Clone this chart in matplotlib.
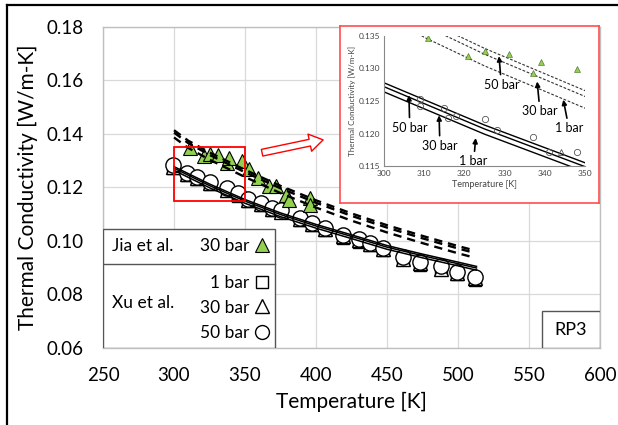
import matplotlib
matplotlib.use("Agg")
import matplotlib.pyplot as plt
from matplotlib.patches import Rectangle
from matplotlib.lines import Line2D

plt.rcParams['font.family'] = ['Lato', 'DejaVu Sans']

# Jia et al. measurements, 30 bar
jia_T = [311, 321, 325, 331, 337, 339, 348, 353, 359, 367, 372, 379, 381, 396, 396]
jia_k = [0.1347, 0.1319, 0.1327, 0.1322, 0.1293, 0.1310, 0.1299, 0.1269,
         0.1236, 0.1206, 0.1206, 0.1172, 0.1155, 0.1161, 0.1135]

# Xu et al. measurements
xu_T = [299, 309, 316, 325, 337, 345, 352, 361, 369, 375, 389, 397,
        406, 419, 430, 438, 447, 461, 473, 488, 499, 512]
xu_k_1bar = [0.1272, 0.1245, 0.1230, 0.1212, 0.1189, 0.1170, 0.1148, 0.1133,
             0.1114, 0.1107, 0.1077, 0.1058, 0.1040, 0.1013, 0.0998, 0.0984,
             0.0965, 0.0931, 0.0912, 0.0896, 0.0875, 0.0855]
xu_k_30bar = [0.1278, 0.1249, 0.1234, 0.1216, 0.1192, 0.1174, 0.1152, 0.1137,
              0.1118, 0.1109, 0.1081, 0.1062, 0.1044, 0.1017, 0.1002, 0.0988,
              0.0969, 0.0934, 0.0916, 0.0897, 0.0879, 0.0860]
xu_k_50bar = [0.1284, 0.1254, 0.1239, 0.1221, 0.1198, 0.1179, 0.1157, 0.1142,
              0.1123, 0.1116, 0.1086, 0.1067, 0.1049, 0.1022, 0.1007, 0.0993,
              0.0974, 0.0940, 0.0921, 0.0906, 0.0884, 0.0865]

# model curves, Xu conditions (solid)
fit_T_xu = [300, 325, 350, 375, 400, 425, 450, 475, 500, 513]
fit_xu_1bar = [0.1264, 0.1199, 0.1141, 0.1091, 0.1048, 0.1009, 0.0969, 0.0937, 0.0907, 0.0891]
fit_xu_30bar = [0.1272, 0.1207, 0.1149, 0.1099, 0.1056, 0.1017, 0.0977, 0.0945, 0.0915, 0.0899]
fit_xu_50bar = [0.1278, 0.1213, 0.1155, 0.1105, 0.1062, 0.1023, 0.0983, 0.0951, 0.0921, 0.0905]

# model curves, Jia conditions (dashed)
fit_T_jia = [300, 310, 325, 350, 375, 400, 425, 450, 475, 500, 510]
fit_jia_1bar = [0.1387, 0.1348, 0.1304, 0.1239, 0.1179, 0.1125, 0.1076, 0.1032, 0.0992, 0.0954, 0.0940]
fit_jia_30bar = [0.1405, 0.1366, 0.1322, 0.1257, 0.1197, 0.1143, 0.1094, 0.1050, 0.1010, 0.0972, 0.0958]
fit_jia_50bar = [0.1414, 0.1375, 0.1331, 0.1266, 0.1206, 0.1152, 0.1103, 0.1059, 0.1019, 0.0981, 0.0967]

# zoomed view points
inset_T = [309, 309, 315, 316, 318, 325, 328, 337, 341, 348]
inset_k = [0.1253, 0.1242, 0.1240, 0.1224, 0.1227, 0.1222, 0.1205, 0.1194, 0.1172, 0.1171]
inset_tri_T = [344]
inset_tri_k = [0.1172]

green = '#92d050'
grid_c = '#d9d9d9'
spine_c = '#bfbfbf'

fig = plt.figure(figsize=(6.18, 4.25), dpi=100)
ax = fig.add_axes([0.1667, 0.1812, 0.8042, 0.7553])

ax.plot(xu_T, xu_k_1bar, 's', ms=8.5, mfc='white', mec='black', mew=1.0, zorder=3)
ax.plot(xu_T, xu_k_30bar, '^', ms=10, mfc='white', mec='black', mew=1.0, zorder=4)
ax.plot(xu_T, xu_k_50bar, 'o', ms=11, mfc='white', mec='black', mew=1.0, zorder=5)
ax.plot(jia_T, jia_k, '^', ms=10.5, mfc=green, mec='black', mew=0.8, zorder=5)

for kk in (fit_xu_1bar, fit_xu_30bar, fit_xu_50bar):
    ax.plot(fit_T_xu, kk, '-', color='black', lw=1.1, zorder=6)
for kk in (fit_jia_1bar, fit_jia_30bar, fit_jia_50bar):
    ax.plot(fit_T_jia, kk, '-', color='black', lw=1.7, dashes=(3.5, 2.5), zorder=6)

ax.set_xlim(250, 600)
ax.set_ylim(0.06, 0.18)
ax.set_xticks(range(250, 601, 50))
ax.set_yticks([0.06, 0.08, 0.10, 0.12, 0.14, 0.16, 0.18])
ax.set_yticklabels(['0.06', '0.08', '0.10', '0.12', '0.14', '0.16', '0.18'])
ax.tick_params(axis='y', length=0, labelsize=13.5, pad=14)
ax.tick_params(axis='x', length=0, labelsize=13.5, pad=14)
ax.grid(True, color=grid_c, lw=0.9)
ax.set_axisbelow(True)
for s in ax.spines.values():
    s.set_color(spine_c)
    s.set_linewidth(1.0)
ax.set_xlabel('Temperature [K]', fontsize=15, labelpad=5)
ax.set_ylabel('Thermal Conductivity [W/m-K]', fontsize=15, labelpad=6)

# red box marking the zoomed region, and arrow towards the inset
ax.add_patch(Rectangle((300, 0.115), 50, 0.02, fill=False, ec='red', lw=1.3, zorder=7))
ax.annotate('', xy=(405, 0.1378), xytext=(362, 0.1330),
            arrowprops=dict(arrowstyle='simple,head_length=0.7,head_width=0.9,tail_width=0.35',
                            fc='white', ec='red', lw=1.0, mutation_scale=14,
                            shrinkA=0, shrinkB=0), zorder=7)

# legend table
tr = ax.transAxes
ax.add_patch(Rectangle((0, 0), 0.346, 0.371, transform=tr, fc='white', ec='#555555', lw=1.0, zorder=8))
ax.add_line(Line2D([0, 0.346], [0.262, 0.262], transform=tr, color='#555555', lw=1.0, zorder=9))
ax.text(0.018, 0.318, 'Jia et al.', transform=tr, fontsize=12.5, va='center', ha='left', zorder=9)
ax.text(0.294, 0.318, '30 bar', transform=tr, fontsize=12.5, va='center', ha='right', zorder=9)
ax.plot([0.32], [0.321], '^', transform=tr, ms=10, mfc=green, mec='black', mew=0.8, zorder=9, clip_on=False)
ax.text(0.018, 0.140, 'Xu et al.', transform=tr, fontsize=12.5, va='center', ha='left', zorder=9)
ax.text(0.294, 0.203, '1 bar', transform=tr, fontsize=12.5, va='center', ha='right', zorder=9)
ax.text(0.294, 0.125, '30 bar', transform=tr, fontsize=12.5, va='center', ha='right', zorder=9)
ax.text(0.294, 0.047, '50 bar', transform=tr, fontsize=12.5, va='center', ha='right', zorder=9)
ax.plot([0.32], [0.206], 's', transform=tr, ms=9, mfc='white', mec='black', mew=1.0, zorder=9, clip_on=False)
ax.plot([0.32], [0.130], '^', transform=tr, ms=10, mfc='white', mec='black', mew=1.0, zorder=9, clip_on=False)
ax.plot([0.32], [0.050], 'o', transform=tr, ms=10, mfc='white', mec='black', mew=1.0, zorder=9, clip_on=False)

# fluid label
ax.add_patch(Rectangle((0.883, 0), 0.117, 0.115, transform=tr, fc='white', ec='#555555', lw=1.0, zorder=8))
ax.text(0.9415, 0.055, 'RP3', transform=tr, fontsize=13, ha='center', va='center', zorder=9)

# inset frame
frame = fig.add_axes([0.550, 0.5224, 0.419, 0.4165])
frame.set_xticks([])
frame.set_yticks([])
for s in frame.spines.values():
    s.set_color('#ff4d4d')
    s.set_linewidth(1.2)
frame.set_zorder(10)

ins = fig.add_axes([0.6214, 0.6094, 0.3252, 0.3059])
ins.set_zorder(11)
ins.patch.set_alpha(0)
for kk in (fit_xu_1bar, fit_xu_30bar, fit_xu_50bar):
    ins.plot(fit_T_xu, kk, '-', color='black', lw=1.0)
for kk in (fit_jia_1bar, fit_jia_30bar, fit_jia_50bar):
    ins.plot(fit_T_jia, kk, '-', color='#333333', lw=0.8, dashes=(2.5, 1.5))
ins.plot(jia_T, jia_k, '^', ms=4, mfc=green, mec='#446622', mew=0.4)
ins.plot(inset_T, inset_k, 'o', ms=4.5, mfc='none', mec='#555555', mew=0.6)
ins.plot(inset_tri_T, inset_tri_k, '^', ms=4, mfc='none', mec='#555555', mew=0.6)
ins.set_xlim(300, 350)
ins.set_ylim(0.115, 0.135)
ins.set_xticks(range(300, 351, 10))
ins.set_yticks([0.115, 0.120, 0.125, 0.130, 0.135])
ins.set_yticklabels(['0.115', '0.120', '0.125', '0.130', '0.135'])
ins.tick_params(length=0, labelsize=6, pad=3, colors='#444444')
ins.spines['top'].set_visible(False)
ins.spines['right'].set_visible(False)
ins.spines['left'].set_color('#888888')
ins.spines['bottom'].set_color('#888888')
ins.set_xlabel('Temperature [K]', fontsize=6.5, labelpad=2, color='#444444')
ins.set_ylabel('Thermal Conductivity [W/m-K]', fontsize=5.8, labelpad=2, color='#444444')

arrow_kw = dict(arrowstyle='-|>', color='black', lw=1.2, shrinkA=1, shrinkB=0, mutation_scale=7)
ins.annotate('50 bar', xy=(328.6, 0.1319), xytext=(329.2, 0.1275), fontsize=9, ha='center', va='center', arrowprops=arrow_kw)
ins.annotate('30 bar', xy=(338.1, 0.1280), xytext=(338.8, 0.1234), fontsize=9, ha='center', va='center', arrowprops=arrow_kw)
ins.annotate('1 bar', xy=(344.6, 0.1252), xytext=(346.0, 0.1208), fontsize=9, ha='center', va='center', arrowprops=arrow_kw)
ins.annotate('50 bar', xy=(306.2, 0.1259), xytext=(306.4, 0.1209), fontsize=9, ha='center', va='center', arrowprops=arrow_kw)
ins.annotate('30 bar', xy=(313.7, 0.1228), xytext=(313.9, 0.1181), fontsize=9, ha='center', va='center', arrowprops=arrow_kw)
ins.annotate('1 bar', xy=(322.8, 0.1193), xytext=(322.3, 0.1157), fontsize=9, ha='center', va='center', arrowprops=arrow_kw)

# border along left and top edge
fig.add_artist(Line2D([0.0113, 0.0113], [0, 0.988], transform=fig.transFigure, color='black', lw=1.6))
fig.add_artist(Line2D([0.0113, 1.0], [0.988, 0.988], transform=fig.transFigure, color='black', lw=1.6))

fig.savefig('out.png', dpi=100)
